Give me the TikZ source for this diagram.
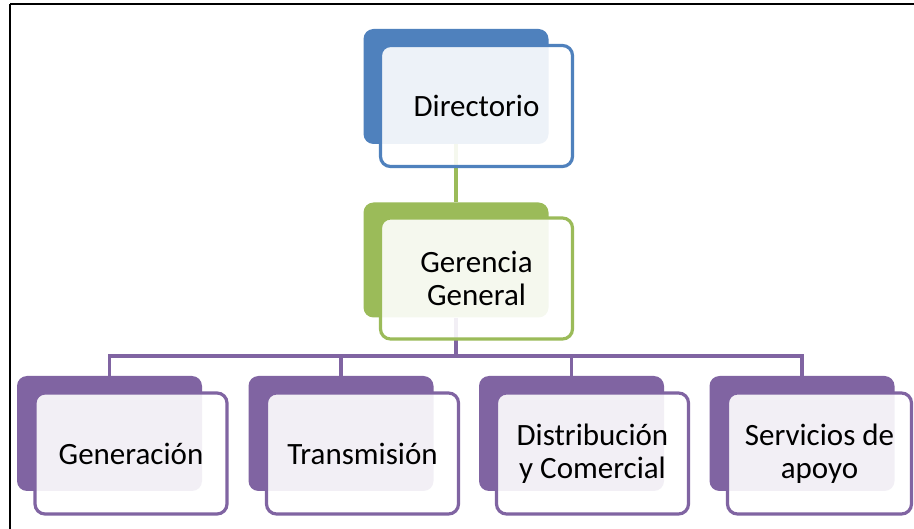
\documentclass[tikz,border=0pt]{standalone}
\usepackage{fontspec}
\setmainfont{Carlito}
\definecolor{orgblue}{HTML}{4F81BD}
\definecolor{orggreen}{HTML}{9BBB59}
\definecolor{orgpurple}{HTML}{8064A2}
\begin{document}
\begin{tikzpicture}[x=1pt,y=-1pt,
  back/.style={fill=#1, rounded corners=10pt, minimum width=185pt,
    minimum height=115pt, inner sep=0pt},
  front/.style={draw=#1, line width=3.2pt, fill=white, fill opacity=0.9,
    text opacity=1, rounded corners=10pt, minimum width=192pt,
    minimum height=121pt, align=center, inner sep=0pt,
    font=\fontsize{31}{33}\selectfont},
  link/.style={draw=#1, line width=3.2pt}]
  \useasboundingbox (0,0) rectangle (914,529);
  \fill[white] (0,0) rectangle (914,529);
  % page frame
  \draw[line width=2pt] (10,4) -- (914,4);
  \draw[line width=1.2pt] (10,4) -- (10,529);

  % filled back panels
  \node[back=orgblue]   (dirB) at (456,86.5) {};
  \node[back=orggreen]  (gerB) at (456,260) {};
  \node[back=orgpurple] (genB) at (109.5,433.5) {};
  \node[back=orgpurple] (traB) at (341,433.5) {};
  \node[back=orgpurple] (disB) at (571.5,433.5) {};
  \node[back=orgpurple] (serB) at (802,433.5) {};

  % connectors
  \coordinate (bus) at (456,356);
  \draw[link=orggreen] (dirB.south) -- (gerB.north);
  \draw[link=orgpurple] (gerB.south) -- (bus);
  \draw[link=orgpurple] (bus) -| (genB.north);
  \draw[link=orgpurple] (bus) -| (traB.north);
  \draw[link=orgpurple] (bus) -| (disB.north);
  \draw[link=orgpurple] (bus) -| (serB.north);

  % outlined front panels with labels
  \node[front=orgblue]   (dir) at (476.5,106) {Directorio};
  \node[front=orggreen]  (ger) at (476.5,278.5) {Gerencia\\General};
  \node[front=orgpurple] (gen) at (131,453.5) {Generación};
  \node[front=orgpurple] (tra) at (362.5,453.5) {Transmisión};
  \node[front=orgpurple] (dis) at (592.5,453.5) {Distribución\\y Comercial};
  \node[front=orgpurple, minimum width=184pt] (ser) at (819.5,453.5) {Servicios de\\apoyo};
\end{tikzpicture}
\end{document}
